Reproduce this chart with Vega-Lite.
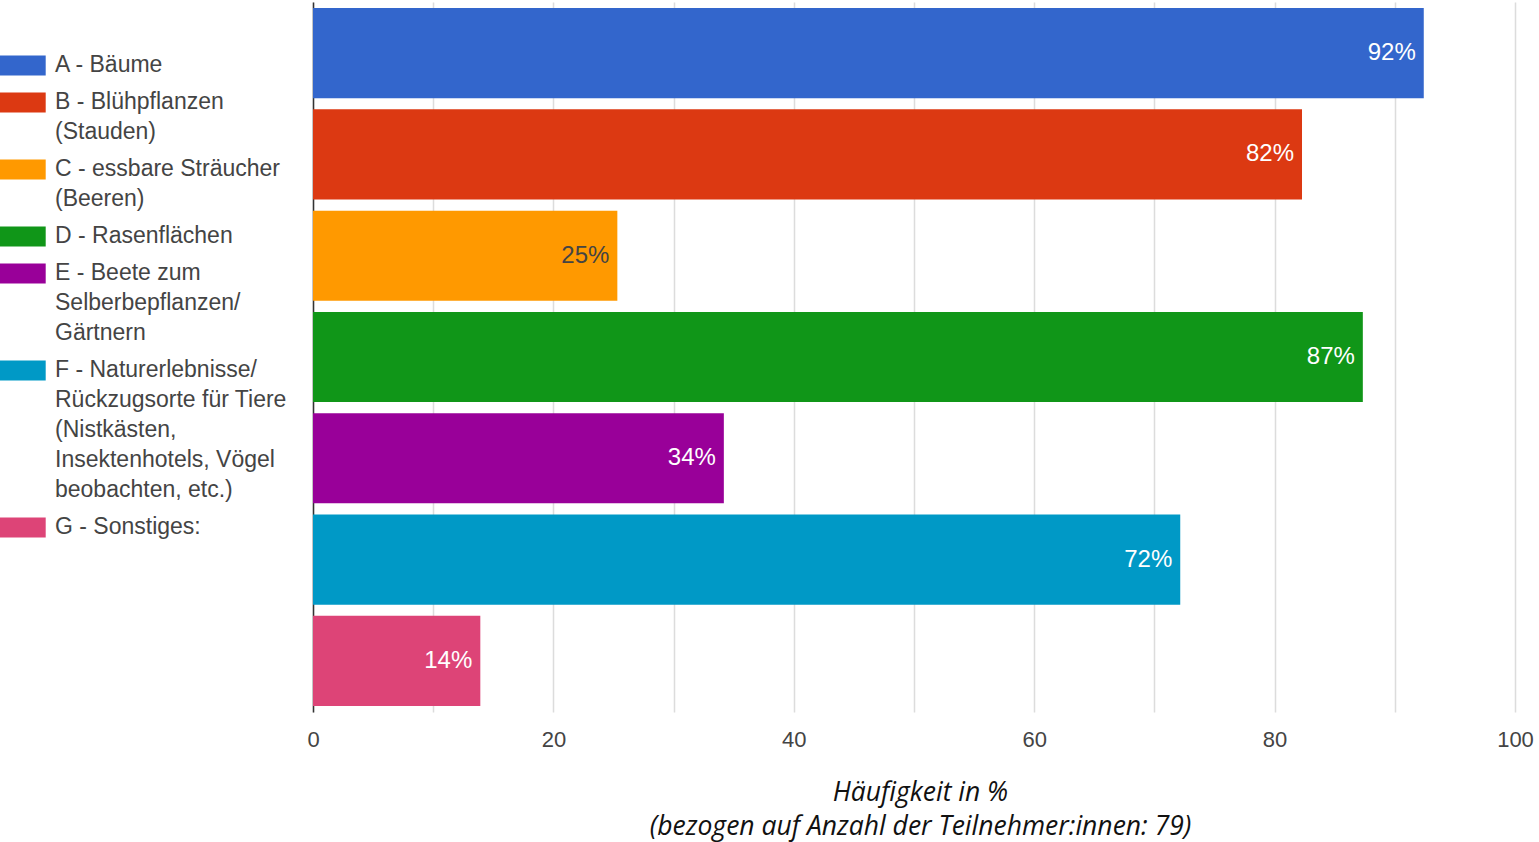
{
  "$schema": "https://vega.github.io/schema/vega-lite/v6.json",
  "width": 1202,
  "height": 710,
  "autosize": {"type": "none"},
  "padding": {"left": 313, "top": 2, "right": 24, "bottom": 130},
  "background": "white",
  "config": {"view": {"stroke": null}},
  "data": {
    "values": [
      {"Kategorie": "A - Bäume", "Anteil": 92.41},
      {"Kategorie": "B - Blühpflanzen (Stauden)", "Anteil": 82.28},
      {"Kategorie": "C - essbare Sträucher (Beeren)", "Anteil": 25.32},
      {"Kategorie": "D - Rasenflächen", "Anteil": 87.34},
      {"Kategorie": "E - Beete zum Selberbepflanzen/ Gärtnern", "Anteil": 34.18},
      {"Kategorie": "F - Naturerlebnisse/ Rückzugsorte für Tiere (Nistkästen, Insektenhotels, Vögel beobachten, etc.)", "Anteil": 72.15},
      {"Kategorie": "G - Sonstiges:", "Anteil": 13.92}
    ]
  },
  "transform": [{"calculate": "format(datum.Anteil, '.0f') + '%'", "as": "Label"}],
  "encoding": {
    "y": {
      "field": "Kategorie",
      "type": "nominal",
      "sort": null,
      "scale": {"paddingInner": 0.11, "paddingOuter": 0.06},
      "axis": {"labels": false, "ticks": false, "title": null, "domainColor": "#333333", "domainWidth": 1.5, "grid": false}
    },
    "x": {
      "field": "Anteil",
      "type": "quantitative",
      "scale": {"domain": [0, 100], "nice": false},
      "axis": {
        "values": [0, 10, 20, 30, 40, 50, 60, 70, 80, 90, 100],
        "labelExpr": "datum.value % 20 == 0 ? datum.label : ''",
        "labelFlush": false,
        "grid": true,
        "gridColor": "#dcdcdc",
        "gridWidth": 1.5,
        "domain": false,
        "ticks": false,
        "labelFont": "Liberation Sans",
        "labelFontSize": 22,
        "labelColor": "#444444",
        "labelPadding": 17,
        "title": ["Häufigkeit in %", "(bezogen auf Anzahl der Teilnehmer:innen: 79)"],
        "titleFont": "Open Sans",
        "titleFontStyle": "italic",
        "titleFontWeight": "normal",
        "titleFontSize": 26.5,
        "titleColor": "#111111",
        "titleLineHeight": 34,
        "titlePadding": 29,
        "titleX": 607
      }
    }
  },
  "layer": [
    {
      "mark": {"type": "bar"},
      "encoding": {
        "color": {
          "field": "Kategorie",
          "type": "nominal",
          "sort": null,
          "scale": {"range": ["#3366cc", "#dc3912", "#ff9900", "#109618", "#990099", "#0099c6", "#dd4477"]},
          "legend": {
            "orient": "none",
            "legendX": -302,
            "legendY": 52,
            "title": null,
            "padding": 0,
            "labelFont": "Liberation Sans",
            "labelFontSize": 23,
            "labelColor": "#444444",
            "labelLimit": 400,
            "labelOffset": 21,
            "labelBaseline": "top",
            "symbolType": "M-2.32,-1H2.32V1H-2.32Z",
            "symbolSize": 400,
            "symbolStrokeWidth": 0,
            "rowPadding": 14,
            "labelExpr": "({'B - Blühpflanzen (Stauden)': ['B - Blühpflanzen', '(Stauden)'], 'C - essbare Sträucher (Beeren)': ['C - essbare Sträucher', '(Beeren)'], 'E - Beete zum Selberbepflanzen/ Gärtnern': ['E - Beete zum', 'Selberbepflanzen/', 'Gärtnern'], 'F - Naturerlebnisse/ Rückzugsorte für Tiere (Nistkästen, Insektenhotels, Vögel beobachten, etc.)': ['F - Naturerlebnisse/', 'Rückzugsorte für Tiere', '(Nistkästen,', 'Insektenhotels, Vögel', 'beobachten, etc.)']})[datum.label] || datum.label",
            "encode": {"labels": {"update": {"lineHeight": {"value": 30}, "dy": {"value": -11.5}}}}
          }
        }
      }
    },
    {
      "mark": {"type": "text", "align": "right", "baseline": "middle", "dx": -8, "fontSize": 24, "font": "Liberation Sans"},
      "encoding": {
        "text": {"field": "Label"},
        "color": {
          "condition": {"test": "indexof(datum.Kategorie, 'C -') == 0", "value": "#444444"},
          "value": "white"
        }
      }
    }
  ]
}
